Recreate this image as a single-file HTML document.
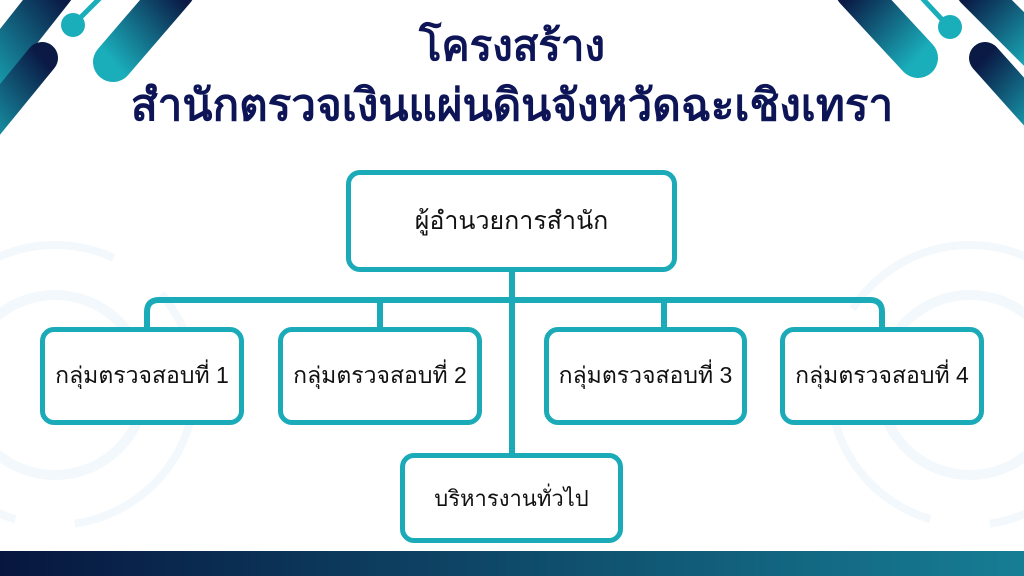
<!DOCTYPE html>
<html><head><meta charset="utf-8"><style>
html,body{margin:0;padding:0}
body{width:1024px;height:576px;position:relative;overflow:hidden;background:#fff;font-family:"Liberation Sans","DejaVu Sans",sans-serif}
.t{position:absolute;left:0;width:1024px;text-align:center;color:#0d1557;font-weight:bold;white-space:nowrap}
.b{position:absolute;box-sizing:border-box;border:5px solid #1aaab8;border-radius:14px;background:#fff;display:flex;align-items:center;justify-content:center;font-size:23px;color:#111;white-space:nowrap}
</style></head><body>
<svg width="1024" height="576" style="position:absolute;left:0;top:0">
<defs>
<linearGradient id="g1" x1="0" y1="1" x2="1" y2="0"><stop offset="0" stop-color="#1aaebb"/><stop offset="1" stop-color="#0a1a45"/></linearGradient>
<linearGradient id="g2" x1="0" y1="0" x2="1" y2="1"><stop offset="0" stop-color="#0a1a45"/><stop offset="1" stop-color="#1aaebb"/></linearGradient>
<linearGradient id="gb" x1="0" y1="0" x2="1" y2="0"><stop offset="0" stop-color="#07163f"/><stop offset="1" stop-color="#167e94"/></linearGradient>
</defs>
<g fill="none" stroke="#f2f8fb">
<circle cx="55" cy="385" r="90" stroke-width="10"/>
<circle cx="55" cy="385" r="140" stroke-width="8" stroke-dasharray="200 60"/>
<circle cx="970" cy="385" r="90" stroke-width="10"/>
<circle cx="970" cy="385" r="140" stroke-width="8" stroke-dasharray="200 60"/>
</g>
<g stroke-linecap="round">
<line x1="-20" y1="85" x2="55" y2="-10" stroke="url(#g1)" stroke-width="38"/>
<line x1="-25" y1="140" x2="42" y2="58" stroke="url(#g1)" stroke-width="32"/>
<line x1="113" y1="62" x2="175" y2="-10" stroke="url(#g1)" stroke-width="40"/>
<line x1="73" y1="25" x2="100" y2="-2" stroke="#1aaebb" stroke-width="5"/>
<line x1="855" y1="-10" x2="918" y2="58" stroke="url(#g2)" stroke-width="40"/>
<line x1="985" y1="58" x2="1045" y2="125" stroke="url(#g2)" stroke-width="32"/>
<line x1="975" y1="-10" x2="1040" y2="55" stroke="url(#g2)" stroke-width="38"/>
<line x1="948" y1="26" x2="922" y2="-2" stroke="#1aaebb" stroke-width="5"/>
</g>
<circle cx="73" cy="25" r="12" fill="#1aaebb"/>
<circle cx="950" cy="27" r="12" fill="#1aaebb"/>
<rect x="0" y="551" width="1024" height="25" fill="url(#gb)"/>
<g stroke="#1aaab8" stroke-width="6" fill="none">
<path d="M147 330 V312 Q147 300 159 300 H870 Q882 300 882 312 V330"/>
<line x1="512" y1="270" x2="512" y2="456"/>
<line x1="380" y1="300" x2="380" y2="330"/>
<line x1="664" y1="300" x2="664" y2="330"/>
</g>
</svg>
<div class="t" style="top:21px;font-size:42px;line-height:50px">โครงสร้าง</div>
<div class="t" style="top:80px;font-size:44px;line-height:52px">สำนักตรวจเงินแผ่นดินจังหวัดฉะเชิงเทรา</div>
<div class="b" style="left:346px;top:170px;width:331px;height:102px;font-size:25px">ผู้อำนวยการสำนัก</div>
<div class="b" style="left:40px;top:327px;width:204px;height:98px">กลุ่มตรวจสอบที่ 1</div>
<div class="b" style="left:278px;top:327px;width:204px;height:98px">กลุ่มตรวจสอบที่ 2</div>
<div class="b" style="left:544px;top:327px;width:203px;height:98px">กลุ่มตรวจสอบที่ 3</div>
<div class="b" style="left:780px;top:327px;width:204px;height:98px">กลุ่มตรวจสอบที่ 4</div>
<div class="b" style="left:400px;top:453px;width:223px;height:90px;font-size:22px">บริหารงานทั่วไป</div>
</body></html>
